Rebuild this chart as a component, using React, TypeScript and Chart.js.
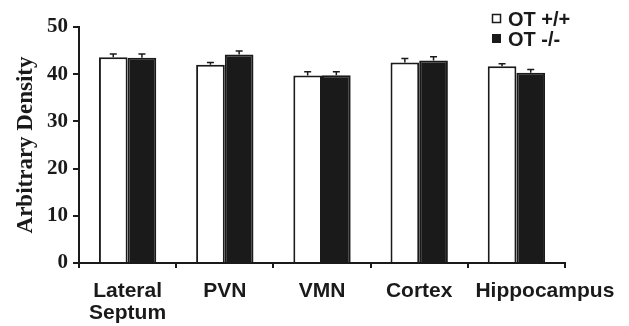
import React, { useEffect, useRef } from "react";
import { Chart, registerables } from "chart.js";

Chart.register(...registerables);

const categories: (string | string[])[] = [["Lateral", "Septum"], "PVN", "VMN", "Cortex", "Hippocampus"];
const seriesNames = ["OT +/+", "OT -/-"];
const wildType = [43.6, 42.0, 39.7, 42.5, 41.7];
const wildTypeErr = [0.7, 0.5, 0.8, 0.8, 0.5];
const knockout = [43.5, 44.2, 39.8, 42.9, 40.3];
const knockoutErr = [0.8, 0.7, 0.7, 0.8, 0.7];
const yTicks = [0, 10, 20, 30, 40, 50];

const INK = "#1a1a1a";
const SANS = "'Liberation Sans', Arial, sans-serif";
const SERIF = "'Liberation Serif', 'Times New Roman', serif";

const errorBars = {
  id: "errorBars",
  afterDatasetsDraw(chart: any) {
    const ctx = chart.ctx;
    const yScale = chart.scales.y;
    const errs = [wildTypeErr, knockoutErr];
    ctx.save();
    ctx.strokeStyle = INK;
    ctx.lineWidth = 1.5;
    chart.data.datasets.forEach((ds: any, di: number) => {
      const meta = chart.getDatasetMeta(di);
      meta.data.forEach((bar: any, i: number) => {
        const v = ds.data[i];
        const top = yScale.getPixelForValue(v + errs[di][i]);
        const base = yScale.getPixelForValue(v);
        ctx.beginPath();
        ctx.moveTo(bar.x, base);
        ctx.lineTo(bar.x, top);
        ctx.moveTo(bar.x - 3.5, top);
        ctx.lineTo(bar.x + 3.5, top);
        ctx.stroke();
      });
    });
    ctx.restore();
  },
};

const xLabels = {
  id: "xLabels",
  afterDraw(chart: any) {
    const ctx = chart.ctx;
    const xScale = chart.scales.x;
    const bottom = chart.chartArea.bottom;
    ctx.save();
    ctx.font = `bold 21px ${SANS}`;
    ctx.fillStyle = INK;
    ctx.textAlign = "left";
    ctx.textBaseline = "alphabetic";
    let prevRight = -Infinity;
    const gap = 23;
    categories.forEach((label, i) => {
      const lines = Array.isArray(label) ? label : [label];
      const w = Math.max(...lines.map((l) => ctx.measureText(l).width));
      const center = xScale.getPixelForValue(i);
      let left = center - w / 2;
      if (left < prevRight + gap) left = prevRight + gap;
      lines.forEach((l, li) => {
        const lw = ctx.measureText(l).width;
        ctx.fillText(l, left + (w - lw) / 2, bottom + 34 + li * 22);
      });
      prevRight = left + w;
    });
    ctx.restore();
  },
};

const customLegend = {
  id: "customLegend",
  afterDraw(chart: any) {
    const ctx = chart.ctx;
    ctx.save();
    ctx.font = `bold 20px ${SANS}`;
    ctx.textBaseline = "middle";
    const rows = [19, 39];
    seriesNames.forEach((name, i) => {
      const y = rows[i];
      if (i === 0) {
        ctx.fillStyle = "#ffffff";
        ctx.fillRect(492.5, y - 4.5, 8, 8);
        ctx.strokeStyle = INK;
        ctx.lineWidth = 1.5;
        ctx.strokeRect(492.5, y - 4.5, 8, 8);
      } else {
        ctx.fillStyle = INK;
        ctx.fillRect(492, y - 5, 9, 9);
      }
      ctx.fillStyle = INK;
      ctx.fillText(name, 508, y + 1);
    });
    ctx.restore();
  },
};

export default function App() {
  const ref = useRef<HTMLCanvasElement>(null);
  useEffect(() => {
    document.body.style.margin = "0";
    const chart = new Chart(ref.current!, {
      type: "bar",
      data: {
        labels: categories,
        datasets: [
          {
            label: seriesNames[0],
            data: wildType,
            backgroundColor: "#ffffff",
            borderColor: INK,
            borderWidth: 2,
            categoryPercentage: 0.59,
            barPercentage: 1.0,
          },
          {
            label: seriesNames[1],
            data: knockout,
            backgroundColor: INK,
            borderColor: INK,
            borderWidth: 2,
            categoryPercentage: 0.59,
            barPercentage: 1.0,
          },
        ],
      },
      options: {
        animation: false,
        responsive: false,
        layout: { padding: { top: 27, right: 64, left: 0, bottom: 0 } },
        plugins: { legend: { display: false }, tooltip: { enabled: false } },
        scales: {
          x: {
            grid: { display: true, drawOnChartArea: false, tickLength: 5, color: INK, lineWidth: 2, offset: true },
            border: { display: true, color: INK, width: 2 },
            ticks: { display: false },
            afterFit(scale: any) {
              scale.height = 63;
            },
          },
          y: {
            min: 0,
            max: 50,
            afterBuildTicks(scale: any) {
              scale.ticks = yTicks.map((v) => ({ value: v }));
            },
            grid: { display: true, drawOnChartArea: false, tickLength: 6, color: INK, lineWidth: 2 },
            border: { display: true, color: INK, width: 2 },
            ticks: {
              color: INK,
              font: { family: SERIF, weight: "bold", size: 21 },
              padding: 5,
            },
            title: {
              display: true,
              text: "Arbitrary Density",
              color: INK,
              font: { family: SERIF, weight: "bold", size: 23 },
              padding: { top: 12, bottom: 0 },
            },
            afterFit(scale: any) {
              scale.width = 79;
            },
          },
        },
      },
      plugins: [errorBars, xLabels, customLegend],
    });
    return () => chart.destroy();
  }, []);
  return (
    <div style={{ position: "absolute", left: 0, top: 0, width: 629, height: 326, background: "#fff" }}>
      <canvas ref={ref} width={629} height={326} style={{ display: "block" }} />
    </div>
  );
}
